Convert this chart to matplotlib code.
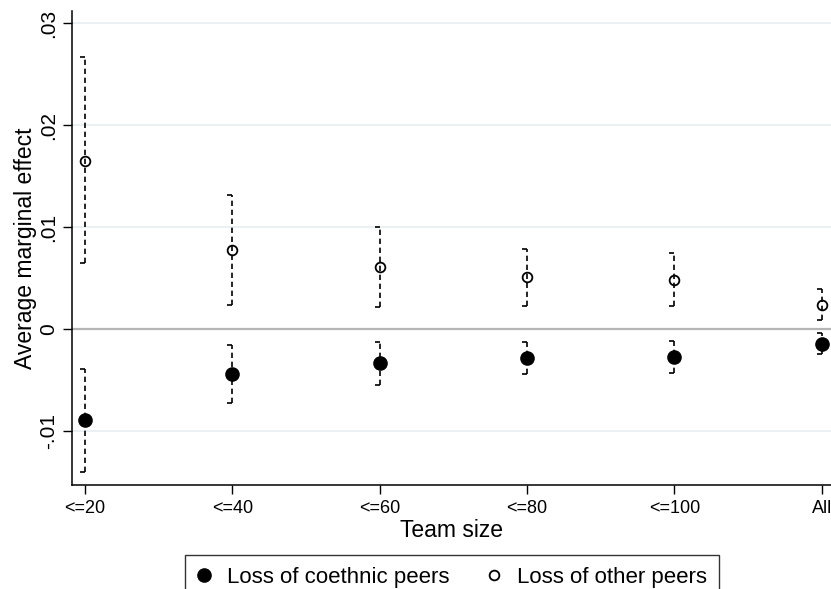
import numpy as np
import matplotlib
matplotlib.use("Agg")
import matplotlib.pyplot as plt
from matplotlib.lines import Line2D

plt.rcParams['font.family'] = ['Liberation Sans', 'DejaVu Sans']

# ---- data ----
team_size = ['<=20', '<=40', '<=60', '<=80', '<=100', 'All']

# loss of coethnic peers
coeth_est = [-0.0089, -0.0044, -0.0033, -0.0028, -0.0027, -0.0014]
coeth_lo = [-0.0140, -0.0072, -0.0055, -0.0044, -0.0043, -0.0024]
coeth_hi = [-0.0039, -0.0015, -0.0012, -0.0012, -0.0011, -0.0004]

# loss of other peers
other_est = [0.0165, 0.0078, 0.0061, 0.0051, 0.0048, 0.0024]
other_lo = [0.0065, 0.0024, 0.0022, 0.0023, 0.0023, 0.0009]
other_hi = [0.0267, 0.0132, 0.0100, 0.0079, 0.0075, 0.0040]

ytick_vals = [-0.01, 0, 0.01, 0.02, 0.03]
ytick_labels = ['-.01', '0', '.01', '.02', '.03']

# ---- figure ----
fig = plt.figure(figsize=(8.31, 5.89), dpi=100)
ax = fig.add_axes([0.0863, 0.1766, 0.9137, 0.8047])

x = np.arange(1, len(team_size) + 1)
dash = (0, (3.2, 2.2))
capw = 0.034

# grid lines
for v in ytick_vals:
    if v == 0:
        ax.axhline(0, color='#b5b5b5', lw=1.6, zorder=1)
    else:
        ax.axhline(v, color='#e6eef0', lw=1.1, zorder=1)

for est, lo, hi, filled in [(coeth_est, coeth_lo, coeth_hi, True),
                            (other_est, other_lo, other_hi, False)]:
    ax.vlines(x, lo, hi, colors='black', linestyles=dash, lw=1.2, zorder=2)
    ax.hlines(lo, x - capw, x, colors='black', lw=1.2, zorder=2)
    ax.hlines(hi, x - capw, x, colors='black', lw=1.2, zorder=2)
    if filled:
        ax.plot(x, est, 'o', ms=9.5, color='black', zorder=3)
    else:
        ax.plot(x, est, 'o', ms=7, mfc='none', mec='black', mew=1.3, zorder=3)

ax.set_xlim(0.91, 6.063)
ax.set_ylim(-0.01526, 0.03121)

ax.set_xticks(x)
ax.set_xticklabels(team_size, fontsize=13)
ax.set_yticks(ytick_vals)
ax.set_yticklabels(ytick_labels, fontsize=15, rotation=90, va='center')
ax.tick_params(axis='both', direction='out', length=6.5, width=1.0, colors='black')
ax.tick_params(axis='x', pad=4)
ax.tick_params(axis='y', pad=3)

ax.set_xlabel('Team size', fontsize=16.5, labelpad=1.5)
ax.set_ylabel('Average marginal effect', fontsize=16.5, labelpad=2)

for s in ['top', 'right']:
    ax.spines[s].set_visible(False)
for s in ['left', 'bottom']:
    ax.spines[s].set_linewidth(1.1)

handles = [
    Line2D([], [], ls='none', marker='o', ms=9.5, color='black'),
    Line2D([], [], ls='none', marker='o', ms=7, mfc='none', mec='black', mew=1.3),
]
leg = fig.legend(handles, ['Loss of coethnic peers', 'Loss of other peers'],
                 loc='upper center', bbox_to_anchor=(0.5439, 0.0577), ncol=2,
                 fontsize=16, frameon=True, fancybox=False, handlelength=0.6,
                 handletextpad=0.75, columnspacing=1.7, borderpad=0.55,
                 edgecolor='black', borderaxespad=0)
leg.get_frame().set_linewidth(1.0)

fig.savefig('out.png', dpi=100)
